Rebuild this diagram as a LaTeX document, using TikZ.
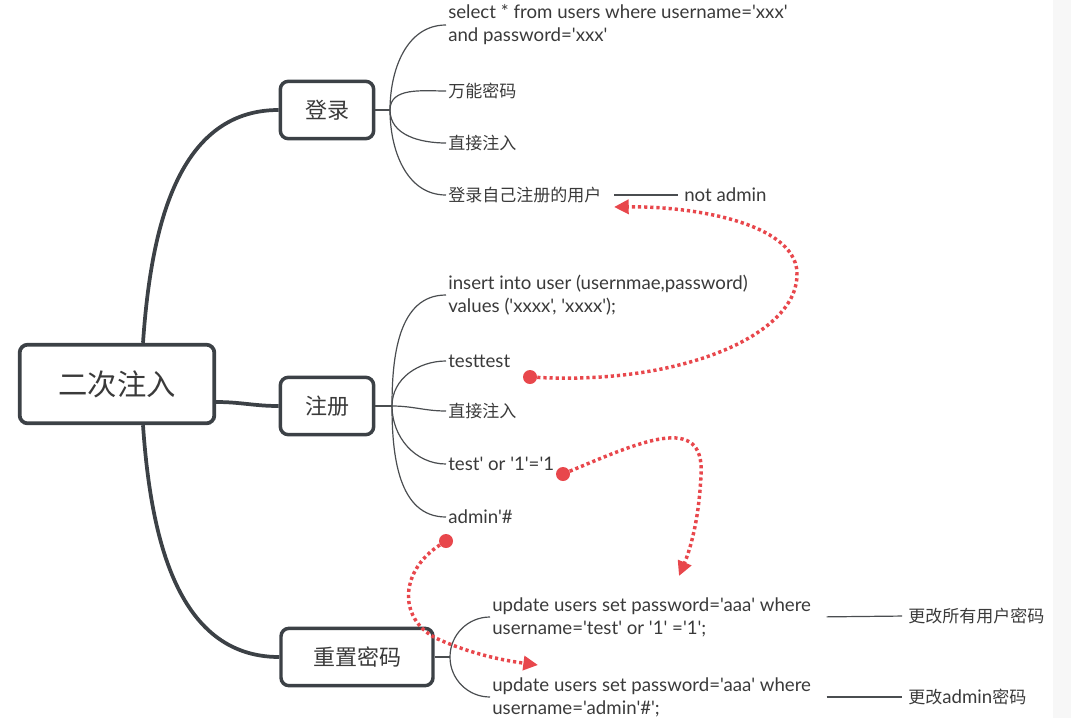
\documentclass[tikz,border=0pt]{standalone}
\usepackage{fontspec}
\setmainfont{Lato}[Ligatures=TeXOff]
\newfontfamily\cjk{Noto Sans CJK SC}
\usepackage{xcolor}
\usetikzlibrary{arrows.meta, calc}
\definecolor{boxline}{HTML}{3C4146}
\definecolor{twig}{HTML}{4A4D50}
\definecolor{txt}{HTML}{3A3A3A}
\definecolor{mark}{HTML}{E8474C}
\newcommand{\leaffont}{\fontsize{14}{17.25}\selectfont}
\newcommand{\cjkleaffont}{\fontsize{12.75}{17.25}\selectfont}
\tikzset{
root/.style={%
    rectangle,
    rounded corners=6pt,
    line width=2.8pt,
    draw=boxline,
    fill=white,
    minimum width=146pt,
    minimum height=59pt,
    text=txt,
    font=\cjk\fontsize{22}{26}\selectfont
},
topic/.style={%
    root,
    line width=2.6pt,
    minimum width=70pt,
    minimum height=43pt,
    font=\cjk\fontsize{16.5}{20}\selectfont
},
leaf/.style={%
    anchor=west,inner sep=1.5pt,align=left,text=txt,font=\leaffont
},
cjkleaf/.style={leaf, font=\cjk\cjkleaffont},
limb/.style={line width=2.8pt, draw=boxline},
twig/.style={line width=0.9pt, draw=twig},
junction/.style={circle,inner sep=0pt,minimum size=0pt},
dot/.style={circle,fill=mark,inner sep=0pt,minimum size=10.5pt},
link/.style={%
    draw=mark, line width=2.6pt, dash pattern=on 2.4pt off 2.2pt,
    -{Triangle[length=11pt,width=10.5pt]}
},
}

\begin{document}
\begin{tikzpicture}[x=0.75pt,y=-0.75pt]
\useasboundingbox (0,0) rectangle (1071,718);
\fill[black!3] (1053,0) rectangle (1071,718);

% topics
\node[root] (root) at (117,384) {二次注入};
\node[topic] (login) at (327,110) {登录};
\node[topic] (reg) at (327,406) {注册};
\node[topic,minimum width=114pt] (reset) at (357,657) {重置密码};

\draw[limb] ($(root.north)+(26,0)$) to[out=86,in=180] (login.west);
\draw[limb] ($(root.east)+(0,18)$) to[out=0,in=180] (reg.west);
\draw[limb] ($(root.south)+(26,0)$) to[out=-86,in=180] (reset.west);

% login
\node[junction] (j1) at (390,110) {};
\node[leaf] (l1) at (446,25) {select * from users where username='xxx'\\and password='xxx'};
\node[cjkleaf] (l2) at (446,91) {万能密码};
\node[cjkleaf] (l3) at (446,143) {直接注入};
\node[cjkleaf] (l4) at (446,195) {登录自己注册的用户};
\node[leaf] (l5) at (682,195) {not admin};

\draw[twig] (login.east) -- (j1.center);
\draw[twig] (j1.center) to[out=90,in=180] (l1.west);
\draw[twig] (j1.center) to[out=90,in=180] (l2.west);
\draw[twig] (j1.center) to[out=-90,in=180] (l3.west);
\draw[twig] (j1.center) to[out=-90,in=180] (l4.west);
\draw[twig,shorten <=8pt,shorten >=3pt] (l4.east) -- (l5.west);

% register
\node[junction] (j2) at (392,406) {};
\node[leaf] (r1) at (446,295) {insert into user (usernmae,password)\\values ('xxxx', 'xxxx');};
\node[leaf] (r2) at (446,361) {testtest};
\node[cjkleaf] (r3) at (446,411) {直接注入};
\node[leaf] (r4) at (446,464) {test' or '1'='1};
\node[leaf] (r5) at (446,517) {admin'\#};

\draw[twig] (reg.east) -- (j2.center);
\foreach \n/\o in {r1/90,r2/90,r3/0,r4/-90,r5/-90}
    \draw[twig] (j2.center) to[out=\o,in=180] (\n.west);

% reset
\node[junction] (j3) at (450,657) {};
\node[leaf] (s1) at (490,617) {update users set password='aaa' where\\username='test' or '1' ='1';};
\node[leaf] (s2) at (490,697) {update users set password='aaa' where\\username='admin'\#';};
\node[cjkleaf] (t1) at (906,616) {更改所有用户密码};
\node[leaf] (t2) at (906,697) {{\cjk\cjkleaffont 更改}admin{\cjk\cjkleaffont 密码}};

\draw[twig] (reset.east) -- (j3.center);
\draw[twig] (j3.center) to[out=90,in=180] (s1.west);
\draw[twig] (j3.center) to[out=-90,in=180] (s2.west);
\draw[twig,shorten <=10pt,shorten >=3pt] (s1.east) -- (t1.west);
\draw[twig,shorten <=10pt,shorten >=3pt] (s2.east) -- (t2.west);

% red links
\node[dot] (d1) at (530,377) {};
\node[dot] (d2) at (563,474) {};
\node[dot] (d3) at (446,541) {};
\coordinate (e1) at (614,207);
\coordinate (e2) at (679,576);
\coordinate (e3) at (538,665);

\draw[link] (d1) .. controls (680,385) and (800,335) .. (797,272)
    .. controls (794,222) and (690,206) .. (e1);
\draw[link] (d2) .. controls (640,442) and (705,412) .. (701,475)
    .. controls (699,520) and (690,550) .. (e2);
\draw[link] (d3) .. controls (398,572) and (398,622) .. (440,640)
    .. controls (470,653) and (500,660) .. (e3);

\end{tikzpicture}
\end{document}
